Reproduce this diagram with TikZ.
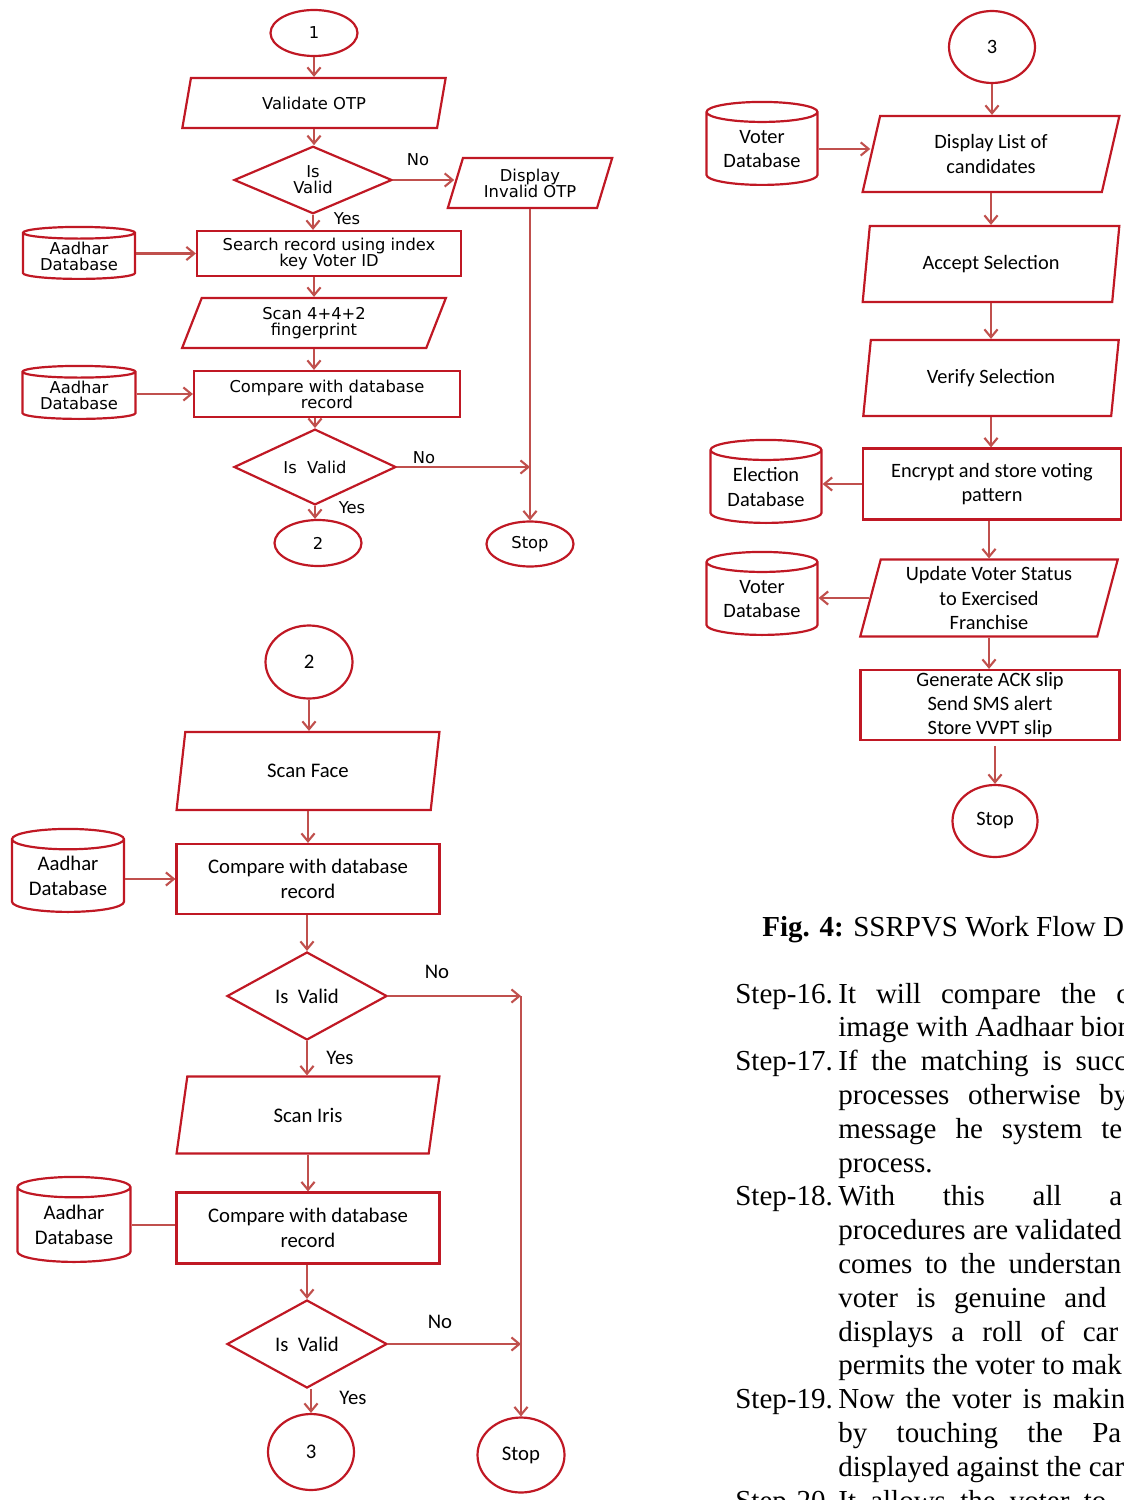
\documentclass[tikz,border=0pt]{standalone}
\usepackage{fontspec}
\setmainfont{Liberation Serif}
\newfontfamily\verdfont{DejaVu Sans}
\newfontfamily\califont{Carlito}
\usetikzlibrary{shapes.geometric}
\usetikzlibrary{arrows.meta}
\usetikzlibrary{calc}
\definecolor{boxred}{RGB}{192,24,36}
\definecolor{linered}{RGB}{192,80,77}

\tikzset{
	base/.style={draw=boxred, line width=1.25pt, inner sep=0pt, align=center},
	term/.style 2 args={base, ellipse, minimum width=#1, minimum height=#2},
	io/.style n args={4}{base, trapezium, trapezium stretches=true, trapezium left angle=#1, trapezium right angle=#2, minimum width=#3, minimum height=#4},
	proc/.style 2 args={base, rectangle, minimum width=#1, minimum height=#2},
	dec/.style 2 args={base, diamond, minimum width=#1, minimum height=#2},
	dbase/.style n args={3}{base, cylinder, shape border rotate=90, shape aspect=#3, minimum width=#1, minimum height=#2, anchor=south},
	flow/.style={draw=linered, line width=1.2pt, -{Straight Barb[length=4.5pt,width=7.5pt]}},
	link/.style={draw=linered, line width=1.2pt},
	smallf/.style={font=\verdfont\fontsize{9.3}{9.1}\selectfont},
	bigf/.style={font=\califont\fontsize{11.8}{14.2}\selectfont},
	rightf/.style={font=\califont\fontsize{11.6}{13.9}\selectfont},
	txt/.style={anchor=base west, inner sep=0pt, font=\fontsize{16.5}{19.2}\selectfont}
}

\begin{document}
\begin{tikzpicture}[x=0.02cm, y=-0.02cm]
	\useasboundingbox (0,0) rectangle (1123,1500);
	\clip (0,0) rectangle (1123,1500);
	
	\begin{scope}[smallf]
		\node[term={1.74cm}{0.92cm}] (one) at (314,33) {1};
		\node[io={74}{106}{5.28cm}{1cm}] (otp) at (314,103) {Validate OTP};
		\node[dec={3.16cm}{1.16cm}] (val1) at (313,180) {Is\\Valid};
		\node[io={70}{110}{3.3cm}{1cm}] (inv) at (530,183) {Display\\Invalid OTP};
		\node[dbase={2.24cm}{1.04cm}{0.15}] (adb1) at (79,280) {Aadhar\\Database};
		\node[proc={5.28cm}{0.9cm}] (search) at (329,253.5) {Search record using index\\key Voter ID};
		\node[io={74}{106}{5.3cm}{1cm}] (scan) at (314,323) {Scan 4+4+2\\fingerprint};
		\node[dbase={2.26cm}{1.06cm}{0.15}] (adb2) at (79,420) {Aadhar\\Database};
		\node[proc={5.32cm}{0.92cm}] (cmp1) at (327,394) {Compare with database\\record};
		\node[dec={3.24cm}{1.14cm}] (val2) at (315,467) {Is~ Valid};
		\node[term={1.74cm}{0.92cm}] (two) at (318,543) {2};
		\node[term={1.74cm}{0.9cm}] (stop1) at (530,544) {Stop};
		
		\node (no1) at (418,160) {No};
		\node (yes1) at (347,219) {Yes};
		\node (no2) at (424,458) {No};
		\node (yes2) at (352,508) {Yes};
		
		\foreach \a/\b/\c in {one/otp/one, otp/val1/otp, val1/search/val1, search/scan/scan, scan/cmp1/scan, cmp1/val2/val2, val2/two/val2}
			\draw[flow] (\a.south -| \c.center) -- (\b.north -| \c.center);
		\draw[flow] (search.west -| adb1.east) -- (search.west);
		\draw[flow] (cmp1.west -| adb2.east) -- (cmp1.west);
		\draw[flow] (val1.east) -- (val1.east -| inv.west);
		\coordinate (j1) at (val2.east -| stop1.north);
		\draw[flow] (val2.east) -- (j1);
		\draw[flow] (inv.south -| stop1.north) -- (stop1.north);
	\end{scope}
	
	\begin{scope}[bigf]
		\node[term={1.74cm}{1.46cm}] (twob) at (309,662) {2};
		\node[io={78}{102}{5.26cm}{1.56cm}] (face) at (308,771) {Scan Face};
		\node[dbase={2.24cm}{1.66cm}{0.26}] (adb3) at (68,913) {Aadhar\\Database};
		\node[proc={5.26cm}{1.4cm}] (cmp2) at (308,879) {Compare with database\\record};
		\node[dec={3.2cm}{1.76cm}] (val3) at (307,996) {Is~ Valid};
		\node[io={78}{102}{5.26cm}{1.54cm}] (iris) at (308,1115) {Scan Iris};
		\node[dbase={2.26cm}{1.7cm}{0.26}] (adb4) at (74,1263) {Aadhar\\Database};
		\node[proc={5.26cm}{1.42cm}] (cmp3) at (308,1228) {Compare with database\\record};
		\node[dec={3.2cm}{1.76cm}] (val4) at (307,1344) {Is~ Valid};
		\node[term={1.72cm}{1.52cm}] (three) at (311,1452) {3};
		\node[term={1.74cm}{1.5cm}] (stop2) at (521,1455) {Stop};
		
		\node (no3) at (437,972) {No};
		\node (yes3) at (340,1058) {Yes};
		\node (no4) at (440,1322) {No};
		\node (yes4) at (353,1398) {Yes};
		
		\foreach \a/\b/\c in {twob/face/twob, face/cmp2/face, cmp2/val3/val3, val3/iris/val3, iris/cmp3/iris, cmp3/val4/val4, val4/three/three}
			\draw[flow] (\a.south -| \c.center) -- (\b.north -| \c.center);
		\draw[flow] (cmp2.west -| adb3.east) -- (cmp2.west);
		\draw[link] (adb4.east) -- (adb4.east -| cmp3.west);
		\coordinate (j3) at (val3.east -| stop2.north);
		\draw[flow] (val3.east) -- (j3);
		\draw[flow] (j3) -- (stop2.north);
		\draw[flow] (val4.east) -- (val4.east -| stop2.north);
	\end{scope}
	
	\begin{scope}[rightf]
		\node[term={1.72cm}{1.44cm}] (threer) at (992,47) {3};
		\node[io={77}{103}{5.14cm}{1.52cm}] (list) at (991,154) {Display List of\\candidates};
		\node[io={77}{103}{5.14cm}{1.52cm}] (accept) at (991,264) {Accept Selection};
		\node[io={77}{103}{5.14cm}{1.52cm}] (verify) at (991,378) {Verify Selection};
		\node[dbase={2.22cm}{1.66cm}{0.26}] (vdb1) at (762,186) {Voter\\Database};
		\node[proc={5.16cm}{1.42cm}] (encrypt) at (992,484) {Encrypt and store voting\\pattern};
		\node[dbase={2.22cm}{1.66cm}{0.26}] (edb) at (766,524) {Election\\Database};
		\node[io={76}{104}{5.16cm}{1.54cm}] (update) at (989,598) {Update Voter Status\\to Exercised\\Franchise};
		\node[dbase={2.22cm}{1.66cm}{0.26}] (vdb2) at (762,636) {Voter\\Database};
		\node[proc={5.18cm}{1.4cm}] (ack) at (990,705) {Generate ACK slip\\Send SMS alert\\Store VVPT slip};
		\node[term={1.7cm}{1.44cm}] (stop3) at (995,821) {Stop};
		
		\foreach \a/\b/\c in {threer/list/threer, list/accept/list, accept/verify/accept, verify/encrypt/verify, encrypt/update/update, update/ack/update}
			\draw[flow] (\a.south -| \c.center) -- (\b.north -| \c.center);
		\draw[flow, shorten <=3pt] (ack.south -| stop3.center) -- (stop3.north);
		\draw[flow] (vdb1.east) -- (vdb1.east -| list.west);
		\draw[flow] (encrypt.west) -- (encrypt.west -| edb.east);
		\draw[flow] (update.west) -- (update.west -| vdb2.east);
	\end{scope}
	
	\node[txt] (cap) at (762,936) {\textbf{Fig. 4:} SSRPVS Work Flow D};
	
	\foreach \s/\l in {Step-16./0, Step-17./2, Step-18./6, Step-19./12, Step-20./15}
		\node[txt] (s\l) at (735,1003+33.8*\l) {\s};
	
	\foreach \w/\t [count=\i from 0] in {165.5/It will compare the c, 0/image with Aadhaar biom, 164.4/If the matching is succ, 165/processes otherwise by, 161.6/message he system te, 0/process., 161.6/With this all a, 0/procedures are validated, 161/comes to the understan, 152.5/voter is genuine and, 159.3/displays a roll of car, 0/permits the voter to mak, 163.3/Now the voter is makin, 161/by touching the Pa, 0/displayed against the car, 152.5/It allows the voter to}
		\node[txt] (t\i) at (838,1003+33.8*\i) {\ifdim\w pt>0pt\makebox[\w pt][s]{\t}\else\t\fi};
\end{tikzpicture}
\end{document}
